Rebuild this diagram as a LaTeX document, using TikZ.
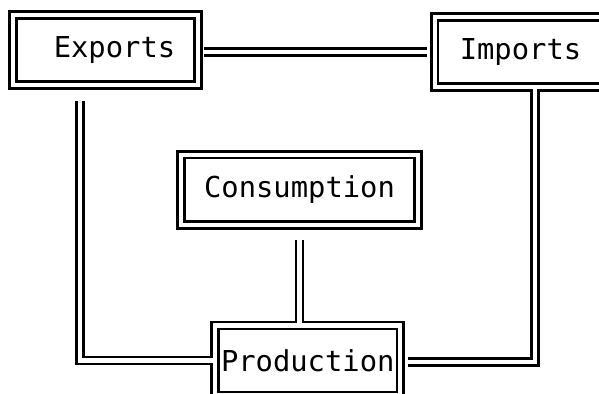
\documentclass[tikz,border=0pt]{standalone}
\usepackage{fontspec}
\setmonofont{DejaVu Sans Mono}
\usetikzlibrary{calc}

\begin{document}
\begin{tikzpicture}[
    % GLOBAL CFG
    x=0.02cm, y=-0.02cm,
    font=\ttfamily\fontsize{16.4}{20}\selectfont,
    % Styles
    block/.style={% For the boxes, frame is drawn with the pipes
        rectangle,
        inner sep=0pt,
        minimum width=3.69cm,
        minimum height=1.39cm,
    },
    pipe/.style={% One pass of the double lines
        line width=#1,
        line join=miter,
    },
    ]
    \useasboundingbox (0,0) rectangle (599,393);
    \clip (0,0) rectangle (599,393);

    % Draw boxes
    \node [block] (exports) at (105.5,50) {\hspace{0.36cm}Exports};
    \node [block, minimum width=3.42cm] (imports) at (520.5,52) {Imports};
    \node [block, minimum width=4.72cm] (consumption) at (299.5,189.75) {Consumption};
    \node [block] (production) at (307.75,360.5) {Production};

    % Frames and connectors: black pass, then white pass
    \foreach \w/\c in {0.19cm/black, 0.086cm/white} {
        \draw [pipe=\w, draw=\c] (exports.north west) rectangle (exports.south east);
        \draw [pipe=\w, draw=\c] (imports.north west) rectangle (imports.south east);
        \draw [pipe=\w, draw=\c] (consumption.north west) rectangle (consumption.south east);
        \draw [pipe=\w, draw=\c] (production.north west) rectangle (production.south east);

        \draw [pipe=\w, draw=\c] ($(exports.east)+(5.5,2)$) -- ($(imports.west)+(-8,0)$);
        \draw [pipe=\w, draw=\c] ($(exports.south)+(-25.5,16)$) |- (production.west);
        \draw [pipe=\w, draw=\c] ($(imports.south)+(14.5,0)$) |- ($(production.east)+(8,1.5)$);
        \draw [pipe=\w, draw=\c] ($(consumption.south)+(0,15.5)$) -- (consumption.south |- production.north);
    }
\end{tikzpicture}
\end{document}
